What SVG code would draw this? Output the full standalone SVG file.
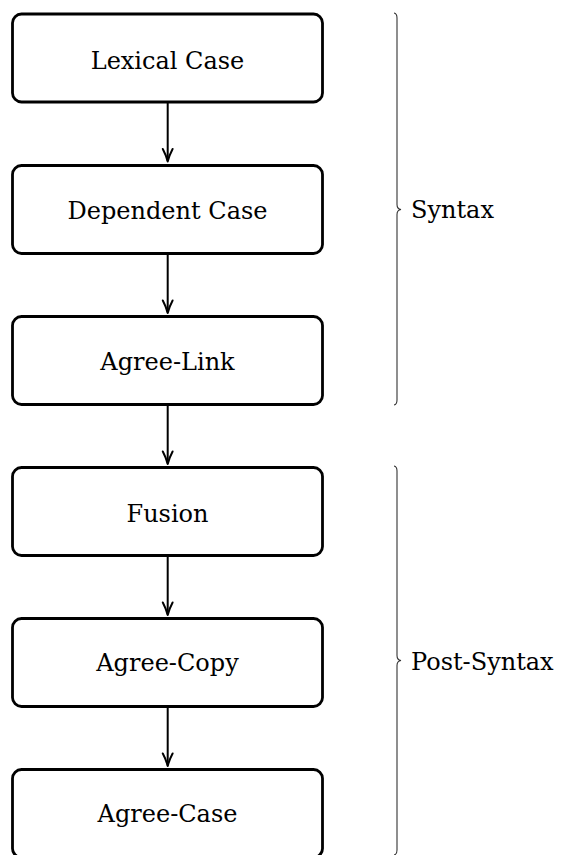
<svg xmlns="http://www.w3.org/2000/svg" width="561" height="855" viewBox="0 0 561 855">
<style>
.box{fill:#fff;stroke:#000;stroke-width:2.8}
.lbl{font-family:"DejaVu Serif",serif;font-size:24px;fill:#000;text-anchor:middle}
.side{font-family:"DejaVu Serif",serif;font-size:24px;fill:#000}
.edge{stroke:#000;stroke-width:2;fill:none}
.head{stroke:#000;stroke-width:2;fill:none;stroke-linecap:round;stroke-linejoin:round}
.brace{stroke:#333;stroke-width:1.1;fill:none}
</style>
<g id="n1"><rect class="box" x="12.5" y="14" width="310" height="88" rx="9"/><text class="lbl" x="167.5" y="69">Lexical Case</text></g>
<g id="n2"><rect class="box" x="12.5" y="165.5" width="310" height="88" rx="9"/><text class="lbl" x="167.5" y="219">Dependent Case</text></g>
<g id="n3"><rect class="box" x="12.5" y="316.5" width="310" height="88" rx="9"/><text class="lbl" x="167.5" y="370">Agree-Link</text></g>
<g id="n4"><rect class="box" x="12.5" y="467.5" width="310" height="88" rx="9"/><text class="lbl" x="167.5" y="522">Fusion</text></g>
<g id="n5"><rect class="box" x="12.5" y="618.5" width="310" height="88" rx="9"/><text class="lbl" x="167.5" y="671">Agree-Copy</text></g>
<g id="n6"><rect class="box" x="12.5" y="769.5" width="310" height="88" rx="9"/><text class="lbl" x="167.5" y="822">Agree-Case</text></g>
<g id="connectors">
<path class="edge" d="M167.7,102 V161"/><path class="head" d="M162.8,149 Q166,155 167.7,161.5 Q169.4,155 172.6,149"/>
<path class="edge" d="M167.7,253.5 V312.5"/><path class="head" d="M162.8,300.5 Q166,306.5 167.7,313 Q169.4,306.5 172.6,300.5"/>
<path class="edge" d="M167.7,404.5 V463.5"/><path class="head" d="M162.8,451.5 Q166,457.5 167.7,464 Q169.4,457.5 172.6,451.5"/>
<path class="edge" d="M167.7,555.5 V614.5"/><path class="head" d="M162.8,602.5 Q166,608.5 167.7,615 Q169.4,608.5 172.6,602.5"/>
<path class="edge" d="M167.7,706.5 V765.5"/><path class="head" d="M162.8,753.5 Q166,759.5 167.7,766 Q169.4,759.5 172.6,753.5"/>
</g>
<g id="brace-syntax">
<path class="brace" d="M394,13 Q397,13.5 397,18 L397,204.5 Q397,209 401,209.5 Q397,210 397,214.5 L397,400 Q397,404.5 394,405"/>
<text class="side" x="411" y="218">Syntax</text>
</g>
<g id="brace-post">
<path class="brace" d="M394,466 Q397,466.5 397,471 L397,655.5 Q397,660 401,660.5 Q397,661 397,665.5 L397,850 Q397,854.5 394,855"/>
<text class="side" x="411" y="670">Post-Syntax</text>
</g>
</svg>
